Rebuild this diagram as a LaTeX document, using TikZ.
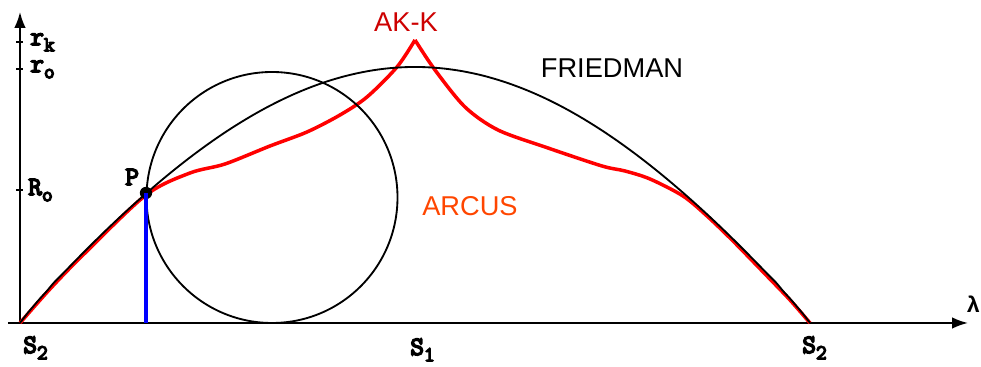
\documentclass[tikz,border=0pt]{standalone}
\usepackage{fontspec}
\usepackage{tikz}
\usetikzlibrary{arrows.meta}
\newfontfamily\sansfam{Liberation Sans}
\newfontfamily\monofam{Liberation Mono}
\newfontfamily\courfam[FakeBold=6]{Latin Modern Mono}
\newcommand{\lsub}[1]{\raisebox{-0.55ex}{\fontsize{12}{12}\selectfont#1}}
\definecolor{akkred}{RGB}{205,0,0}
\definecolor{arcusor}{RGB}{255,70,0}

\begin{document}
\begin{tikzpicture}[x=2cm,y=2cm,
  axis/.style={line width=1.1pt,-{Latex[length=9pt,width=6.5pt]}},
  tickmark/.style={line width=1.4pt},
  blackcurve/.style={line width=1.05pt},
  redcurve/.style={red,line width=2pt,line join=round},
  lab/.style={font=\fontsize{15}{15}\selectfont\courfam,inner sep=0pt,anchor=base west},
  title/.style={font=\fontsize{15.5}{15.5}\selectfont\sansfam,inner sep=0pt}]
\useasboundingbox (-0.20,-0.44) rectangle (9.61,3.23);
\coordinate (O) at (0,0);
\coordinate (xstart) at (-0.12,0);
\coordinate (xend) at (9.48,0);
\coordinate (yend) at (0,3.11);
\coordinate (foot) at (1.26,0);
\coordinate (S2end) at (7.90,0);
\draw[axis] (xstart)--(xend);
\draw[axis] (O)--(yend);
\foreach \yy in {2.81,2.54,1.33}
  \draw[tickmark] (-0.035,\yy)--(0.035,\yy);
\node[lab] (rk) at (0.10,2.78) {r\lsub{k}};
\node[lab] (ro) at (0.10,2.51) {r\lsub{o}};
\node[lab] (Ro) at (0.08,1.28) {R\lsub{o}};
\node[lab] (S2l) at (0.03,-0.30) {S\lsub{2}};
\node[lab] (S1) at (3.90,-0.32) {S\lsub{1}};
\node[lab] (S2r) at (7.82,-0.30) {S\lsub{2}};
\node[lab,font=\fontsize{13}{13}\selectfont\monofam\bfseries] (lam) at (9.46,0.10) {λ};
% AK-K
\draw[redcurve] plot[smooth] coordinates {(0,0) (0.30,0.34) (0.63,0.68) (1.26,1.28) (1.70,1.50) (2.05,1.59) (2.50,1.77) (2.87,1.91) (3.20,2.08) (3.47,2.26) (3.77,2.56) (3.95,2.83)};
\draw[redcurve] plot[smooth] coordinates {(3.95,2.83) (4.15,2.53) (4.45,2.16) (4.78,1.93) (5.28,1.75) (5.82,1.57) (6.05,1.52) (6.30,1.44) (6.63,1.27) (6.87,1.07) (7.13,0.82) (7.47,0.47) (7.70,0.23) (7.90,0)};
% FRIEDMAN
\draw[blackcurve] (O)--plot[smooth,domain=0.005:7.895,samples=120,variable=\x] (\x,{2.56*(sin(180*\x/7.9))^0.93})--(S2end);
\draw[blackcurve] (2.52,1.255) circle (1.255);
\node[circle,fill,inner sep=0pt,minimum size=7pt] (P) at (1.26,1.30) {};
\draw[blue,line width=2pt] (P.center)--(foot);
\node[lab] (Plab) at (1.05,1.38) {P};
\node[title,text=akkred] (akk) at (3.86,3.01) {AK-K};
\node[title] (fried) at (5.92,2.55) {FRIEDMAN};
\node[title,text=arcusor] (arcus) at (4.50,1.17) {ARCUS};
\end{tikzpicture}
\end{document}
